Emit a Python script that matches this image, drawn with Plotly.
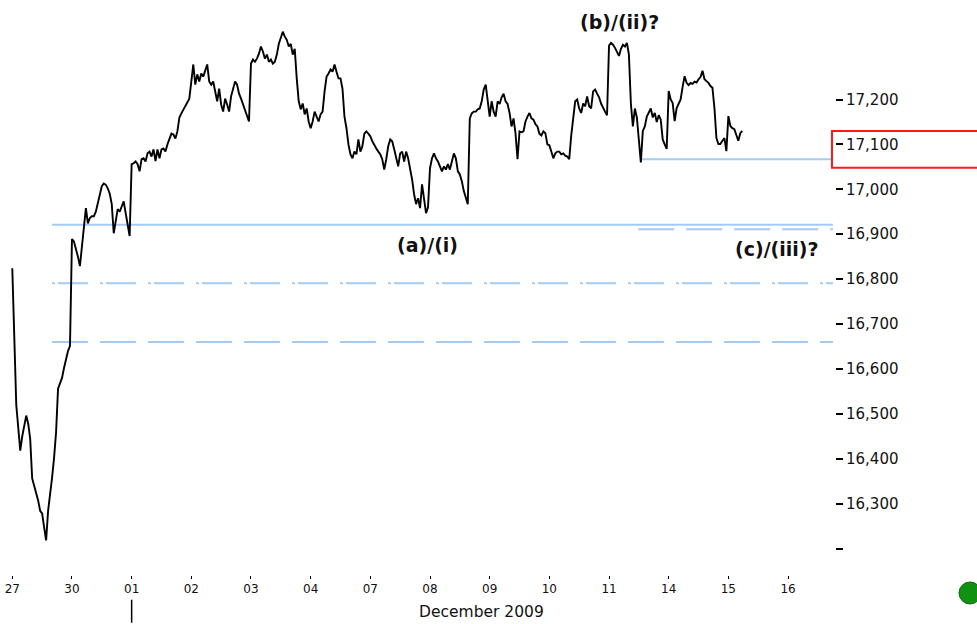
import plotly.graph_objects as go

# ---------------- data ----------------
day_labels = ["27", "30", "01", "02", "03", "04", "07", "08", "09", "10", "11", "14", "15", "16"]
steps_per_day = 30  # intraday observations per session

p_nov27 = [16824, 16640, 16520, 16469, 16418, 16450, 16470, 16496, 16478, 16444,
           16356, 16340, 16322, 16307, 16284, 16278, 16247, 16218, 16284, 16318,
           16358, 16402, 16458, 16556, 16570, 16580, 16602, 16625, 16640, 16651]
p_nov30 = [16889, 16884, 16869, 16850, 16829, 16869, 16924, 16958, 16924, 16936,
           16940, 16940, 16950, 16970, 16985, 17007, 17013, 17010, 17002, 16990,
           16967, 16902, 16929, 16956, 16950, 16960, 16973, 16947, 16920, 16896]
p_dec01 = [17056, 17058, 17062, 17056, 17040, 17067, 17069, 17062, 17080, 17084,
           17073, 17089, 17063, 17089, 17069, 17089, 17091, 17084, 17100, 17113,
           17124, 17122, 17113, 17129, 17160, 17169, 17178, 17184, 17196, 17202]
p_dec02 = [17240, 17278, 17233, 17256, 17240, 17258, 17251, 17267, 17278, 17240,
           17233, 17240, 17213, 17196, 17224, 17189, 17173, 17202, 17189, 17173,
           17207, 17224, 17240, 17233, 17213, 17202, 17189, 17180, 17167, 17151]
p_dec03 = [17280, 17289, 17284, 17291, 17302, 17318, 17307, 17291, 17300, 17284,
           17289, 17280, 17284, 17300, 17324, 17340, 17351, 17340, 17333, 17318,
           17324, 17300, 17313, 17247, 17196, 17178, 17191, 17167, 17180, 17151]
p_dec04 = [17136, 17151, 17173, 17162, 17151, 17167, 17173, 17218, 17251, 17258,
           17267, 17262, 17278, 17262, 17247, 17247, 17224, 17162, 17136, 17100,
           17078, 17069, 17084, 17078, 17111, 17084, 17096, 17124, 17129, 17124]
p_dec07 = [17118, 17107, 17098, 17091, 17084, 17078, 17067, 17044, 17067, 17096,
           17111, 17107, 17089, 17067, 17051, 17080, 17084, 17062, 17084, 17069,
           17047, 17022, 16989, 16967, 16980, 16958, 17011, 16978, 16947, 16960]
p_dec08 = [17047, 17069, 17080, 17069, 17062, 17051, 17040, 17051, 17044, 17056,
           17044, 17062, 17080, 17069, 17040, 17033, 17018, 16996, 16980, 16967,
           17158, 17169, 17173, 17173, 17178, 17180, 17196, 17222, 17233, 17196]
p_dec09 = [17162, 17196, 17173, 17162, 17196, 17190, 17205, 17213, 17196, 17190,
           17170, 17140, 17158, 17124, 17067, 17129, 17127, 17129, 17151, 17162,
           17170, 17158, 17155, 17145, 17140, 17124, 17120, 17129, 17125, 17100]
p_dec10 = [17098, 17084, 17069, 17080, 17084, 17084, 17078, 17080, 17075, 17073,
           17067, 17120, 17162, 17196, 17200, 17180, 17170, 17191, 17185, 17207,
           17185, 17180, 17218, 17222, 17213, 17205, 17191, 17180, 17173, 17165]
p_dec11 = [17320, 17326, 17322, 17315, 17305, 17297, 17313, 17322, 17318, 17326,
           17300, 17190, 17140, 17180, 17160, 17110, 17060, 17130, 17140, 17162,
           17173, 17180, 17160, 17170, 17150, 17165, 17155, 17111, 17100, 17090]
p_dec14 = [17219, 17200, 17192, 17152, 17181, 17192, 17200, 17228, 17252, 17237,
           17232, 17237, 17235, 17240, 17238, 17245, 17250, 17264, 17245, 17241,
           17237, 17230, 17226, 17181, 17114, 17101, 17101, 17108, 17114, 17085]
p_dec15 = [17163, 17141, 17136, 17134, 17118, 17108, 17125, 17130]

sessions = [p_nov27, p_nov30, p_dec01, p_dec02, p_dec03, p_dec04, p_dec07,
            p_dec08, p_dec09, p_dec10, p_dec11, p_dec14, p_dec15]

# horizontal support / projection levels
level_values = [16921, 16791, 16660, 16911, 17067]
level_start = [0.665, 0.665, 0.665, 10.49, 10.52]
level_end = [13.754, 13.754, 13.754, 13.754, 13.754]
level_dash = ["solid", "3px,3px,30px,12px", "36px,12px", "36px,12px", "solid"]

y_ticks = [16200, 16300, 16400, 16500, 16600, 16700, 16800, 16900, 17000, 17100, 17200]
y_ticktext = ["", "16,300", "16,400", "16,500", "16,600", "16,700", "16,800",
              "16,900", "17,000", "17,100", "17,200"]

wave_labels = ["(b)/(ii)?", "(a)/(i)", "(c)/(iii)?"]
wave_x = [10.18, 6.95, 12.82]
wave_y = [17373, 16876, 16867]

last_box = [17048, 17130]

# ---------------- build ----------------
xs, ys = [], []
for d, prices in enumerate(sessions):
    for k, v in enumerate(prices):
        xs.append(d + k / steps_per_day)
        ys.append(v)

BLUE = "#a3cbf5"
fig = go.Figure()

for val, x0, x1, dash in zip(level_values, level_start, level_end, level_dash):
    fig.add_trace(go.Scatter(x=[x0, x1], y=[val, val], mode="lines",
                             line=dict(color=BLUE, width=2, dash=dash),
                             hoverinfo="skip", showlegend=False))

fig.add_trace(go.Scatter(x=xs, y=ys, mode="lines",
                         line=dict(color="black", width=1.9),
                         showlegend=False))

annotations = []
for t, ax_, ay_ in zip(wave_labels, wave_x, wave_y):
    annotations.append(dict(x=ax_, y=ay_, xref="x", yref="y", text="<b>" + t + "</b>",
                            showarrow=False,
                            font=dict(family="DejaVu Sans", size=19, color="#111111"),
                            xanchor="center", yanchor="middle"))
annotations.append(dict(x=7.855, y=-0.064, xref="x", yref="paper", text="December 2009",
                        showarrow=False, xanchor="center", yanchor="middle",
                        font=dict(family="DejaVu Sans", size=15.5, color="#111111")))

shapes = [
    # last-price highlight box
    dict(type="rect", xref="paper", yref="y", x0=0.9964, x1=1.25,
         y0=last_box[0], y1=last_box[1], line=dict(color="#ff1a1a", width=2)),
    # month separator under "01"
    dict(type="line", xref="x", yref="paper", x0=2, x1=2, y0=-0.043, y1=-0.083,
         line=dict(color="black", width=1.5)),
    # status dot
    dict(type="circle", xref="paper", yref="paper", x0=1.1485, x1=1.175,
         y0=-0.0504, y1=-0.0122, fillcolor="#119111", line=dict(color="#0b6f0b", width=1)),
]

fig.update_layout(
    width=977, height=624,
    margin=dict(l=0, r=142, t=0, b=49),
    paper_bgcolor="white", plot_bgcolor="white",
    template="none",
    showlegend=False,
    annotations=annotations,
    shapes=shapes,
    xaxis=dict(range=[-0.206, 13.787], tickmode="array",
               tickvals=list(range(len(day_labels))), ticktext=day_labels,
               ticks="outside", ticklen=3, tickcolor="black", tickwidth=1,
               showgrid=False, zeroline=False, showline=False, automargin=False,
               tickfont=dict(family="DejaVu Sans", size=12, color="#111111")),
    yaxis=dict(range=[16141, 17421.6], side="right", tickmode="array",
               tickvals=y_ticks, ticktext=y_ticktext,
               ticks="outside", ticklen=7, tickcolor="black", tickwidth=1.5,
               showgrid=False, zeroline=False, showline=False, automargin=False,
               tickfont=dict(family="DejaVu Sans", size=15, color="#111111")),
)

fig.write_html("out.html",
               config={"displayModeBar": False},
               post_script="document.body.style.margin='0';document.body.style.overflow='hidden';")
